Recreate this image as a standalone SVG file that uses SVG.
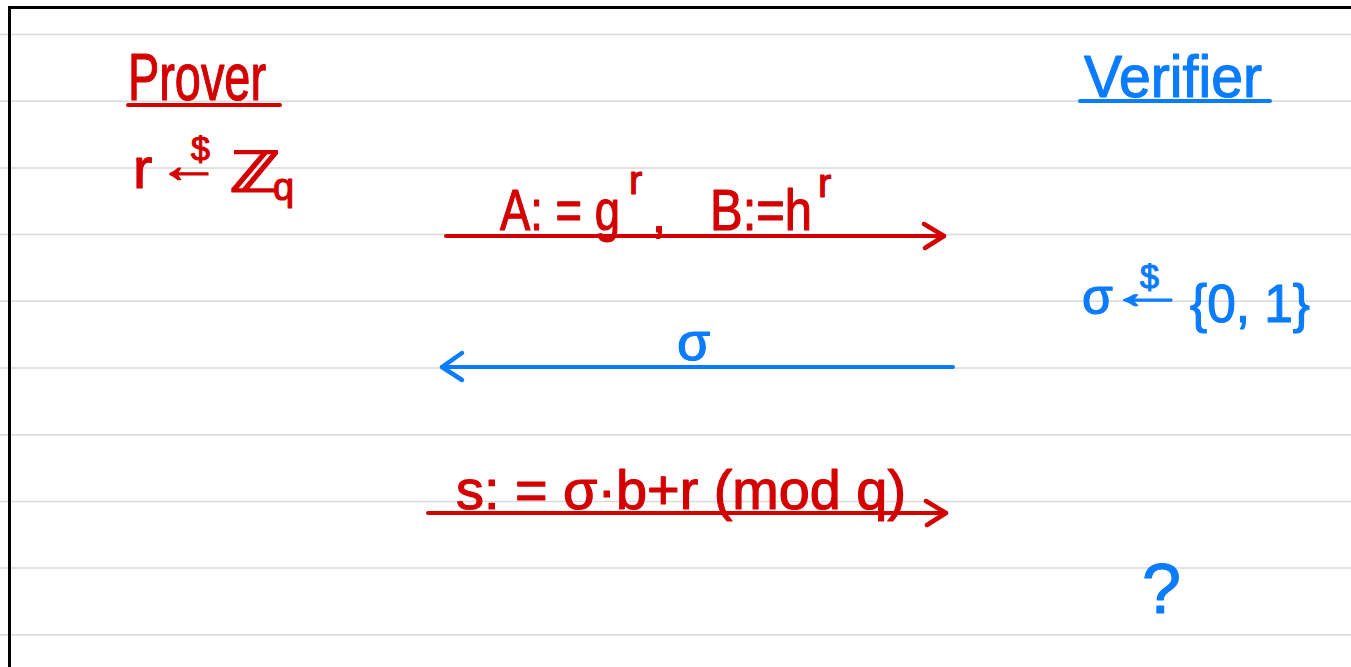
<svg xmlns="http://www.w3.org/2000/svg" width="1351" height="667" viewBox="0 0 1351 667">
<style>
.rule{stroke:#d9d9d9;stroke-width:1.5;fill:none}
.border{stroke:#000;stroke-width:3;fill:none}
.red{fill:#d40000;stroke:#d40000;stroke-width:1.2;stroke-linejoin:round;font-family:"Liberation Sans",Arial,sans-serif}
.blue{fill:#0a7cff;stroke:#0a7cff;stroke-width:1.2;stroke-linejoin:round;font-family:"Liberation Sans",Arial,sans-serif}
.rline{stroke:#d40000;stroke-width:4;stroke-linecap:round;fill:none}
.bline{stroke:#0a7cff;stroke-width:4;stroke-linecap:round;fill:none}
</style>
<defs>
<marker id="headR" markerUnits="userSpaceOnUse" markerWidth="30" markerHeight="30" refX="0" refY="0" orient="auto" overflow="visible">
<path d="M-20,-12 L0,0 L-19,12" fill="none" stroke="#d40000" stroke-width="4.5" stroke-linecap="round" stroke-linejoin="round"/>
</marker>
<marker id="headB" markerUnits="userSpaceOnUse" markerWidth="30" markerHeight="30" refX="0" refY="0" orient="auto" overflow="visible">
<path d="M-20,-13 L0,0 L-20,14" fill="none" stroke="#0a7cff" stroke-width="4.5" stroke-linecap="round" stroke-linejoin="round"/>
</marker>
</defs>
<rect width="1351" height="667" fill="#fff"/>
<g id="paper">
<path class="rule" d="M0,34.5H1351M0,101.2H1351M0,167.9H1351M0,234.6H1351M0,301.3H1351M0,368H1351M0,434.7H1351M0,501.4H1351M0,568.1H1351M0,634.8H1351"/>
<path class="border" d="M9.5,667V7.5H1351"/>
</g>
<g id="prover">
<text class="red" x="128" y="100" font-size="66" textLength="138" lengthAdjust="spacingAndGlyphs">Prover</text>
<path class="rline" d="M128,105H280"/>
<text class="red" font-size="58"><tspan x="133" y="188">r</tspan><tspan x="157" y="182" font-size="50" textLength="64" lengthAdjust="spacingAndGlyphs">←</tspan><tspan x="191" y="160" font-size="34">$</tspan><tspan x="229" y="192" textLength="52" lengthAdjust="spacingAndGlyphs">ℤ</tspan><tspan x="273" y="200" font-size="38">q</tspan></text>
</g>
<g id="verifier">
<text class="blue" x="1084" y="97" font-size="60" textLength="178" lengthAdjust="spacingAndGlyphs">Verifier</text>
<path class="bline" d="M1080,101H1270"/>
<text class="blue" font-size="50"><tspan x="1082" y="314">σ</tspan><tspan x="1108" y="308" font-size="46" textLength="80" lengthAdjust="spacingAndGlyphs">←</tspan><tspan x="1140" y="288" font-size="34">$</tspan><tspan x="1190" y="322" font-size="54" textLength="120" lengthAdjust="spacingAndGlyphs">{0, 1}</tspan></text>
<text class="blue" x="1142" y="613" font-size="70">?</text>
</g>
<g id="connectors">
<path class="rline" d="M446,236H944" marker-end="url(#headR)"/>
<path class="bline" d="M953,367H442" marker-end="url(#headB)"/>
<path class="rline" d="M428,513H946" marker-end="url(#headR)"/>
</g>
<g id="labels">
<text class="red" font-size="58"><tspan x="500" y="230" textLength="120" lengthAdjust="spacingAndGlyphs">A: = g</tspan><tspan x="629" y="194" font-size="40">r</tspan><tspan x="652" y="232" font-size="50">,</tspan><tspan x="710" y="230" textLength="102" lengthAdjust="spacingAndGlyphs">B:=h</tspan><tspan x="818" y="197" font-size="40">r</tspan></text>
<text class="blue" x="677" y="360" font-size="54">σ</text>
<text class="red" x="456" y="509" font-size="56" textLength="450" lengthAdjust="spacingAndGlyphs">s: = σ·b+r (mod q)</text>
</g>
</svg>
